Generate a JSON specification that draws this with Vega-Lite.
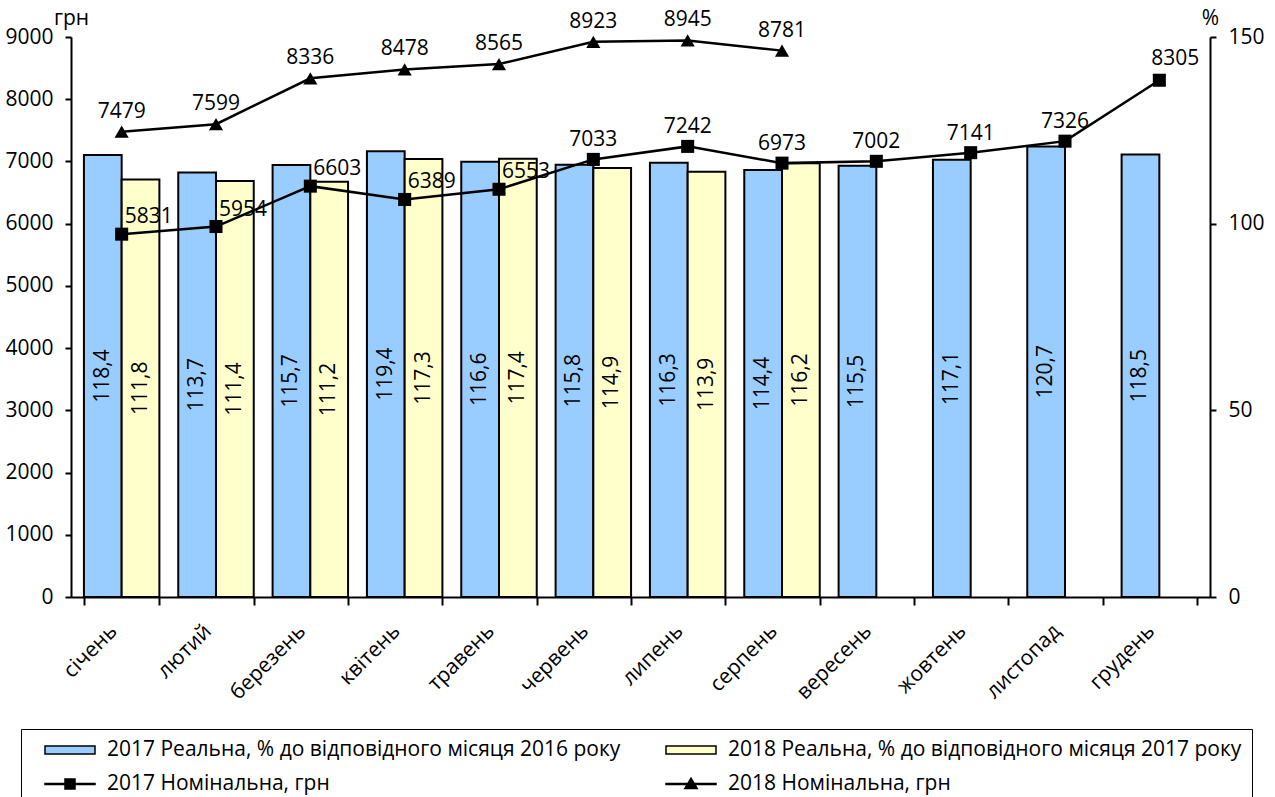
{
  "$schema": "https://vega.github.io/schema/vega-lite/v6.json",
  "width": 1139,
  "height": 560,
  "padding": {"left": 4, "top": 7, "right": 5, "bottom": 0},
  "background": "white",
  "data": {
    "values": [
      {"month": "січень", "r2017": 118.4, "r2018": 111.8, "n2017": 5831, "n2018": 7479},
      {"month": "лютий", "r2017": 113.7, "r2018": 111.4, "n2017": 5954, "n2018": 7599},
      {"month": "березень", "r2017": 115.7, "r2018": 111.2, "n2017": 6603, "n2018": 8336},
      {"month": "квітень", "r2017": 119.4, "r2018": 117.3, "n2017": 6389, "n2018": 8478},
      {"month": "травень", "r2017": 116.6, "r2018": 117.4, "n2017": 6553, "n2018": 8565},
      {"month": "червень", "r2017": 115.8, "r2018": 114.9, "n2017": 7033, "n2018": 8923},
      {"month": "липень", "r2017": 116.3, "r2018": 113.9, "n2017": 7242, "n2018": 8945},
      {"month": "серпень", "r2017": 114.4, "r2018": 116.2, "n2017": 6973, "n2018": 8781},
      {"month": "вересень", "r2017": 115.5, "r2018": null, "n2017": 7002, "n2018": null},
      {"month": "жовтень", "r2017": 117.1, "r2018": null, "n2017": 7141, "n2018": null},
      {"month": "листопад", "r2017": 120.7, "r2018": null, "n2017": 7326, "n2018": null},
      {"month": "грудень", "r2017": 118.5, "r2018": null, "n2017": 8305, "n2018": null}
    ]
  },
  "config": {
    "locale": {"number": {"decimal": ",", "thousands": "", "grouping": [3], "currency": ["", ""]}},
    "font": "Open Sans",
    "view": {"stroke": null},
    "axis": {
      "labelFont": "Open Sans", "labelFontSize": 21, "labelColor": "black",
      "domainColor": "black", "domainWidth": 2, "tickColor": "black", "tickWidth": 2,
      "grid": false, "titleFont": "Open Sans", "titleFontSize": 21,
      "titleFontWeight": "normal", "titleColor": "black"
    },
    "legend": {
      "orient": "none", "legendX": -50, "legendY": 692,
      "direction": "horizontal", "columns": 2, "title": null,
      "labelFont": "Open Sans", "labelFontSize": 21, "labelColor": "black",
      "labelLimit": 0, "labelOffset": 54,
      "symbolSize": 400, "symbolOpacity": 1, "symbolStrokeWidth": 1.5,
      "columnPadding": 31, "rowPadding": 13, "padding": 10,
      "strokeColor": "black"
    }
  },
  "layer": [
    {
      "transform": [
        {"fold": ["r2017", "r2018"], "as": ["key", "value"]},
        {"filter": "isValid(datum.value)"},
        {"calculate": "datum.value / 2", "as": "mid"}
      ],
      "encoding": {
        "x": {
          "field": "month", "type": "nominal", "sort": null,
          "scale": {
            "domain": ["січень", "лютий", "березень", "квітень", "травень", "червень", "липень", "серпень", "вересень", "жовтень", "листопад", "грудень"],
            "paddingInner": 0.2, "paddingOuter": 0.137
          },
          "axis": {
            "title": null, "labelAngle": -45, "labelAlign": "right", "labelBaseline": "top",
            "tickBand": "extent", "tickSize": 8, "labelPadding": 15, "labelOffset": -16
          }
        },
        "xOffset": {
          "field": "key", "type": "nominal",
          "scale": {"domain": ["r2017", "r2018"], "paddingInner": 0, "paddingOuter": 0}
        }
      },
      "layer": [
        {
          "mark": {"type": "bar", "stroke": "black", "strokeWidth": 2},
          "encoding": {
            "y": {
              "field": "value", "type": "quantitative",
              "scale": {"domain": [0, 150], "nice": false},
              "axis": {
                "orient": "right", "title": "%", "titleAngle": 0, "titleX": 0, "titleY": -13,
                "titleAlign": "center", "titleBaseline": "alphabetic",
                "values": [0, 50, 100, 150], "format": "d", "tickSize": 6, "labelPadding": 12
              }
            },
            "color": {
              "field": "key", "type": "nominal",
              "scale": {
                "domain": ["r2017", "r2018", "n2017", "n2018"],
                "range": ["#99CCFF", "#FFFFCC", "#000000", "#000000"]
              },
              "legend": {
                "labelExpr": "datum.value == 'r2017' ? '2017 Реальна, % до відповідного місяця 2016 року' : datum.value == 'r2018' ? '2018 Реальна, % до відповідного місяця 2017 року' : datum.value == 'n2017' ? '2017 Номінальна, грн' : '2018 Номінальна, грн'"
              }
            }
          }
        },
        {
          "mark": {"type": "point", "filled": true, "opacity": 0},
          "encoding": {
            "y": {"field": "value", "type": "quantitative"},
            "shape": {
              "field": "key", "type": "nominal",
              "scale": {
                "domain": ["r2017", "r2018", "n2017", "n2018"],
                "range": [
                  "M0.3,-0.4H5.3V0.4H0.3Z",
                  "M0.3,-0.4H5.3V0.4H0.3Z",
                  "M0.3,-0.05H5.3V0.05H0.3Z M2.3,-0.5H3.3V0.5H2.3Z",
                  "M0.3,-0.05H5.3V0.05H0.3Z M2.8,-0.58L3.42,0.46H2.18Z"
                ]
              },
              "legend": {
                "labelExpr": "datum.value == 'r2017' ? '2017 Реальна, % до відповідного місяця 2016 року' : datum.value == 'r2018' ? '2018 Реальна, % до відповідного місяця 2017 року' : datum.value == 'n2017' ? '2017 Номінальна, грн' : '2018 Номінальна, грн'"
              }
            },
            "stroke": {
              "field": "key", "type": "nominal",
              "scale": {
                "domain": ["r2017", "r2018", "n2017", "n2018"],
                "range": ["#000000", "#000000", "#000000", "#000000"]
              },
              "legend": {
                "labelExpr": "datum.value == 'r2017' ? '2017 Реальна, % до відповідного місяця 2016 року' : datum.value == 'r2018' ? '2018 Реальна, % до відповідного місяця 2017 року' : datum.value == 'n2017' ? '2017 Номінальна, грн' : '2018 Номінальна, грн'"
              }
            }
          }
        },
        {
          "mark": {"type": "text", "angle": 270, "fontSize": 21, "font": "Open Sans", "color": "black", "align": "center", "baseline": "middle"},
          "encoding": {
            "y": {"field": "mid", "type": "quantitative"},
            "text": {"field": "value", "type": "quantitative", "format": ".1f"}
          }
        }
      ]
    },
    {
      "encoding": {
        "x": {"field": "month", "type": "nominal", "sort": null}
      },
      "layer": [
        {
          "mark": {"type": "line", "strokeWidth": 2.5, "color": "black"},
          "encoding": {
            "y": {
              "field": "n2017", "type": "quantitative",
              "scale": {"domain": [0, 9000], "nice": false},
              "axis": {
                "orient": "left", "title": "грн", "titleAngle": 0, "titleX": 0, "titleY": -13,
                "titleAlign": "center", "titleBaseline": "alphabetic",
                "values": [0, 1000, 2000, 3000, 4000, 5000, 6000, 7000, 8000, 9000],
                "format": "d", "tickSize": 6, "labelPadding": 12
              }
            }
          }
        },
        {
          "mark": {"type": "line", "strokeWidth": 2.5, "color": "black"},
          "encoding": {
            "y": {"field": "n2018", "type": "quantitative"}
          }
        },
        {
          "mark": {"type": "point", "shape": "square", "filled": true, "size": 170, "color": "black", "opacity": 1},
          "encoding": {"y": {"field": "n2017", "type": "quantitative"}}
        },
        {
          "mark": {"type": "point", "shape": "triangle-up", "filled": true, "size": 200, "color": "black", "opacity": 1},
          "encoding": {"y": {"field": "n2018", "type": "quantitative"}}
        },
        {
          "transform": [{"filter": "isValid(datum.n2018)"}],
          "mark": {"type": "text", "fontSize": 21, "font": "Open Sans", "color": "black", "align": "center", "baseline": "middle", "dy": -20},
          "encoding": {
            "y": {"field": "n2018", "type": "quantitative"},
            "text": {"field": "n2018", "type": "quantitative", "format": "d"}
          }
        },
        {
          "transform": [{"filter": "indexof(['січень','лютий','березень','квітень','травень'], datum.month) >= 0"}],
          "mark": {"type": "text", "fontSize": 21, "font": "Open Sans", "color": "black", "align": "left", "baseline": "middle", "dx": 3, "dy": -17},
          "encoding": {
            "y": {"field": "n2017", "type": "quantitative"},
            "text": {"field": "n2017", "type": "quantitative", "format": "d"}
          }
        },
        {
          "transform": [{"filter": "indexof(['червень','липень','серпень','вересень','жовтень','листопад'], datum.month) >= 0"}],
          "mark": {"type": "text", "fontSize": 21, "font": "Open Sans", "color": "black", "align": "center", "baseline": "middle", "dy": -19},
          "encoding": {
            "y": {"field": "n2017", "type": "quantitative"},
            "text": {"field": "n2017", "type": "quantitative", "format": "d"}
          }
        },
        {
          "transform": [{"filter": "datum.month == 'грудень'"}],
          "mark": {"type": "text", "fontSize": 21, "font": "Open Sans", "color": "black", "align": "center", "baseline": "middle", "dx": 16, "dy": -21},
          "encoding": {
            "y": {"field": "n2017", "type": "quantitative"},
            "text": {"field": "n2017", "type": "quantitative", "format": "d"}
          }
        }
      ]
    }
  ],
  "resolve": {"scale": {"y": "independent"}}
}
